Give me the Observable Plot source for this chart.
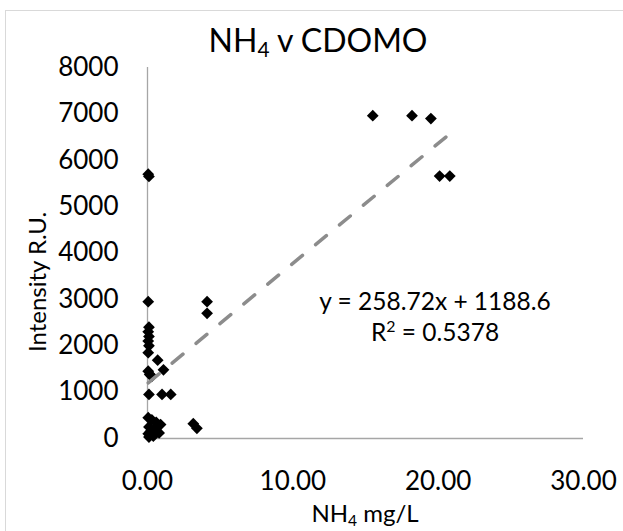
<!DOCTYPE html>
<html>
<head>
<meta charset="utf-8">
<script src="https://cdn.jsdelivr.net/npm/d3@7"></script>
<script src="https://cdn.jsdelivr.net/npm/@observablehq/plot@0.6"></script>
<style>
  html, body { margin: 0; padding: 0; background: #fff; overflow: hidden; }
  #wrap { position: relative; width: 623px; height: 531px; font-family: Lato, sans-serif; color: #000; }
  #border { position: absolute; left: 5px; top: 10px; width: 660px; height: 560px; border: 1px solid #d9d9d9; box-sizing: border-box; }
  #chart { position: absolute; left: 0; top: 0; }
  .lbl { position: absolute; white-space: nowrap; line-height: 1; }
  .lbl sub { font-size: 65%; vertical-align: -0.25em; line-height: 0; }
  #title { font-size: 32px; left: 318px; top: 24px; transform: translateX(-50%); }
  #xtitle { font-size: 24px; left: 365px; top: 501px; transform: translateX(-50%); }
  #ytitle { font-size: 24px; left: 37px; top: 282px; transform: translate(-50%, -50%) rotate(-90deg); }
  #eq { font-size: 24.5px; left: 435px; top: 285px; transform: translateX(-50%); text-align: center; line-height: 31px; }
  #eq sup { font-size: 65%; vertical-align: 0.55em; line-height: 0; }
</style>
</head>
<body>
<div id="wrap">
  <div id="border"></div>
  <div id="chart"></div>
  <div class="lbl" id="title">NH<sub>4</sub> v CDOMO</div>
  <div class="lbl" id="xtitle">NH<sub>4</sub> mg/L</div>
  <div class="lbl" id="ytitle">Intensity R.U.</div>
  <div class="lbl" id="eq"></div>
</div>
<script>
// Data
const nh4 = [
  0.05, 0.1,
  0.05,
  0.1, 0.05, 0.1, 0.05, 0.1, 0.05,
  0.7, 1.1, 0.05, 0.15, 0.3,
  0.1, 1.0, 1.6,
  0.05, 0.3, 0.6, 0.9, 0.1, 0.5, 0.2, 0.8, 0.05, 0.4, 0.1,
  3.15, 3.4,
  4.1, 4.1,
  15.5, 18.2, 19.5, 20.1, 20.8
];
const cdomo = [
  5700, 5650,
  2950,
  2400, 2300, 2200, 2100, 2000, 1850,
  1690, 1480, 1450, 1380, 1340,
  950, 950, 950,
  450, 400, 350, 300, 250, 200, 150, 120, 100, 50, 30,
  320, 220,
  2950, 2700,
  6960, 6960, 6900, 5660, 5660
];
const xTicks = [0, 10, 20, 30];
const yTicks = [0, 1000, 2000, 3000, 4000, 5000, 6000, 7000, 8000];
const trendSlope = 258.72;
const trendIntercept = 1188.6;
const rSquared = 0.5378;

const points = nh4.map((x, i) => ({x, y: cdomo[i]}));
const xExt = d3.extent(nh4);
const trend = xExt.map(x => ({x, y: trendSlope * x + trendIntercept}));

const chart = Plot.plot({
  width: 623,
  height: 531,
  marginLeft: 147,
  marginRight: 40,
  marginTop: 67,
  marginBottom: 93,
  style: {fontFamily: "Lato, sans-serif", fontSize: "26px", color: "#000", background: "transparent", overflow: "visible"},
  x: {domain: [0, 30]},
  y: {domain: [0, 8000]},
  marks: [
    Plot.axisX({ticks: xTicks, tickFormat: d3.format(".2f"), tickSize: 0, tickPadding: 33, label: null, fontSize: 26}),
    Plot.axisY({ticks: yTicks, tickFormat: d3.format("d"), tickSize: 0, tickPadding: 29, label: null, fontSize: 26}),
    Plot.ruleY([0], {stroke: "#a6a6a6", strokeWidth: 1.3}),
    Plot.ruleX([0], {stroke: "#a6a6a6", strokeWidth: 1.3}),
    Plot.dot(points, {x: "x", y: "y", symbol: "diamond2", r: 5.3, fill: "#000", stroke: null}),
    Plot.line(trend, {x: "x", y: "y", stroke: "#8c8c8c", strokeWidth: 3.5, strokeDasharray: "14,17", strokeLinecap: "round"})
  ]
});
document.getElementById("chart").appendChild(chart);
document.getElementById("eq").innerHTML =
  `y = ${trendSlope}x + ${trendIntercept}<br>R<sup>2</sup> = ${rSquared}`;
</script>
</body>
</html>
